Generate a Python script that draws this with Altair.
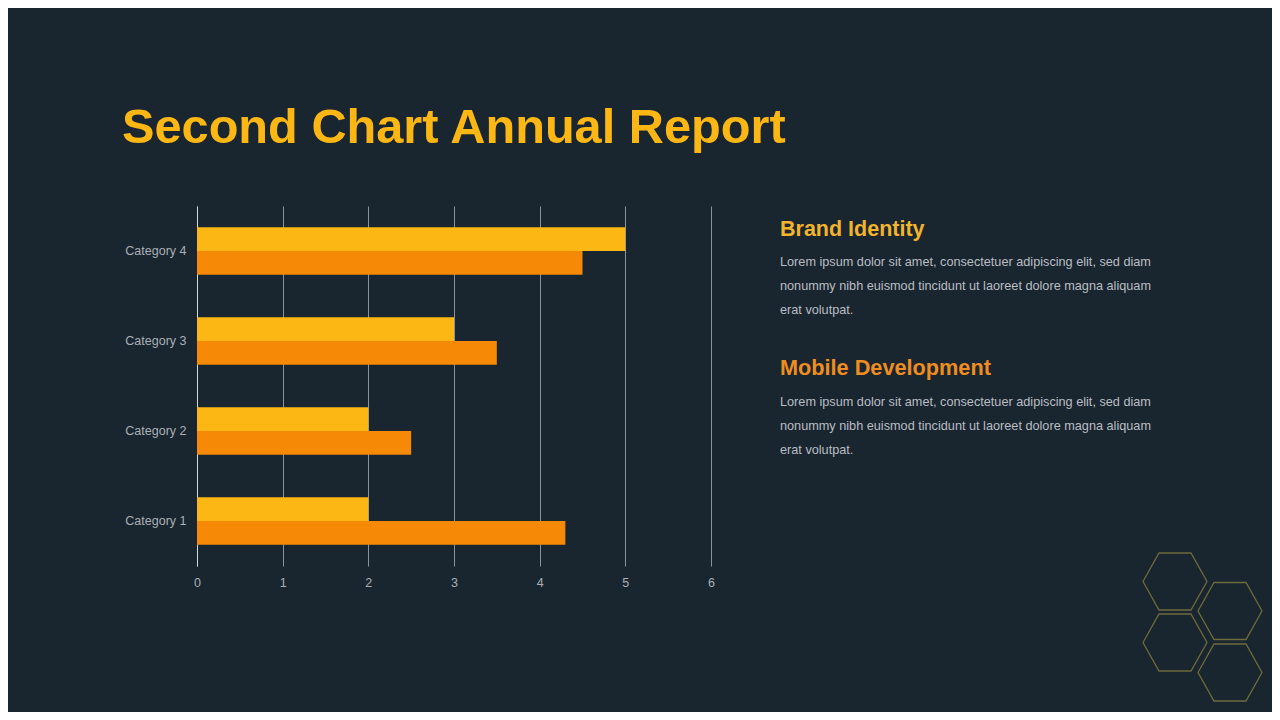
import altair as alt
import pandas as pd

# ---- data ----
categories = ["Category 1", "Category 2", "Category 3", "Category 4"]
series_names = ["Series 1", "Series 2"]
series1_values = [2, 2, 3, 5]
series2_values = [4.3, 2.5, 3.5, 4.5]
x_ticks = [0, 1, 2, 3, 4, 5, 6]

title_text = "Second Chart Annual Report"
heading1 = "Brand Identity"
heading2 = "Mobile Development"
body_text = ("Lorem ipsum dolor sit amet, consectetuer adipiscing elit, sed diam\n"
             "nonummy nibh euismod tincidunt ut laoreet dolore magna aliquam\n"
             "erat volutpat.")

BG = "#19252f"
YELLOW = "#fdb714"
ORANGE = "#f68a07"
GRID = "#8a939b"
LABEL = "#aab0b6"

rows = []
for c, a, b in zip(categories, series1_values, series2_values):
    rows.append({"category": c, "series": series_names[0], "value": a})
    rows.append({"category": c, "series": series_names[1], "value": b})
df = pd.DataFrame(rows)

bars = alt.Chart(df).mark_bar().encode(
    x=alt.X("value:Q",
            scale=alt.Scale(domain=[0, 6], nice=False),
            axis=alt.Axis(values=x_ticks, title=None, grid=True, gridColor=GRID,
                          gridWidth=1, domain=False, ticks=False, labelPadding=10,
                          labelFlush=False,
                          labelColor=LABEL, labelFontSize=12.5, labelFont="Liberation Sans")),
    y=alt.Y("category:N", sort=list(reversed(categories)),
            scale=alt.Scale(paddingInner=0.47, paddingOuter=0.235),
            axis=alt.Axis(title=None, domain=True, domainColor="#d4d8dc", domainWidth=1,
                          ticks=False, grid=False, labelPadding=11,
                          labelColor=LABEL, labelFontSize=12.5, labelFont="Liberation Sans")),
    yOffset=alt.YOffset("series:N", sort=series_names,
                        scale=alt.Scale(paddingInner=0, paddingOuter=0)),
    color=alt.Color("series:N", sort=series_names,
                    scale=alt.Scale(domain=series_names, range=[YELLOW, ORANGE]),
                    legend=None),
)

def text_layer(txt, x, y, size, color, weight="normal", line_height=None):
    kw = dict(align="left", baseline="alphabetic", fontSize=size, color=color,
              font="Liberation Sans", fontWeight=weight)
    if line_height:
        kw.update(lineBreak="\n", lineHeight=line_height)
    return alt.Chart(pd.DataFrame({"t": [txt]})).mark_text(**kw).encode(
        x=alt.value(x), y=alt.value(y), text="t:N")

title = text_layer(title_text, -75, -63, 48.7, YELLOW, "bold")
h1 = text_layer(heading1, 583, 30, 21.5, "#f2b42a", "bold")
b1 = text_layer(body_text, 583, 60, 12.7, "#b9bec4", line_height=24)
h2 = text_layer(heading2, 583, 169, 21.7, "#ef8d20", "bold")
b2 = text_layer(body_text, 583, 200, 12.7, "#b9bec4", line_height=24)

hex_path = "M-1,0L-0.5,-0.89L0.5,-0.89L1,0L0.5,0.89L-0.5,0.89Z"
hex_centers_x = [978, 1033, 978, 1033]
hex_centers_y = [375.5, 405, 436.5, 466.5]
hex_layers = []
for hx, hy in zip(hex_centers_x, hex_centers_y):
    hex_layers.append(
        alt.Chart(pd.DataFrame({"k": [0]})).mark_point(
            shape=hex_path, size=4096, filled=False, stroke="#6e6b3c",
            strokeWidth=1.3, opacity=1
        ).encode(x=alt.value(hx), y=alt.value(hy))
    )

chart = alt.layer(bars, title, h1, b1, h2, b2, *hex_layers).properties(
    width=514, height=360,
    autosize=alt.AutoSizeParams(type="none"),
    padding={"left": 189, "top": 198, "right": 561, "bottom": 146},
    background=BG,
).configure_view(stroke=None)

chart.save("out.html", embed_options={"renderer": "svg", "actions": False})
